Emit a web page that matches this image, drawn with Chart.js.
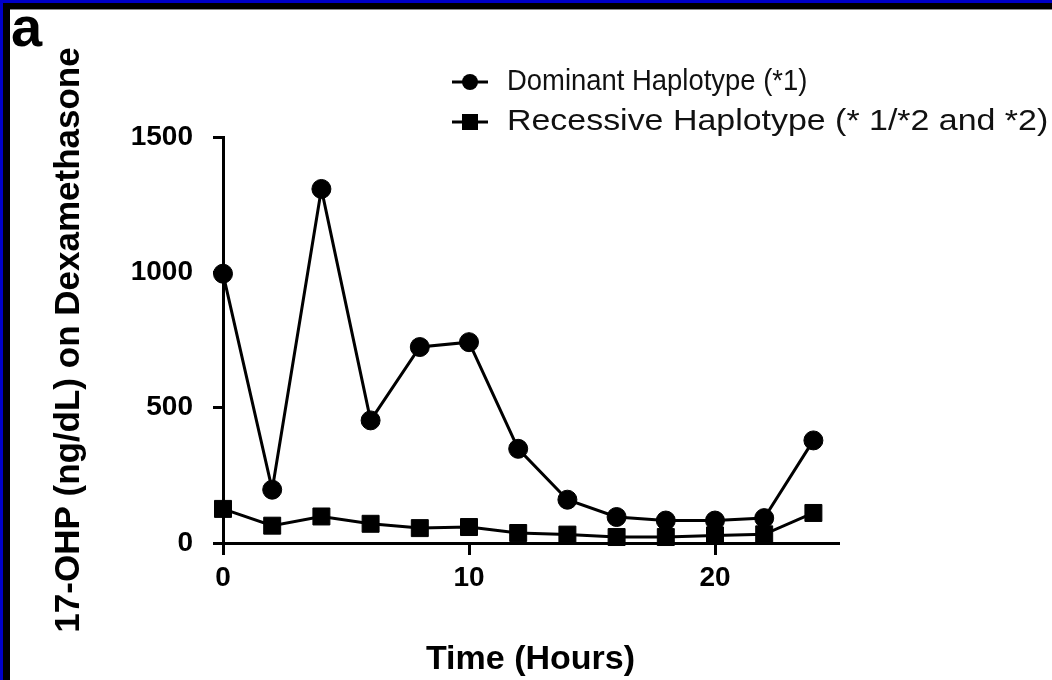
<!DOCTYPE html>
<html>
<head>
<meta charset="utf-8">
<script src="https://cdn.jsdelivr.net/npm/chart.js@4.4.1/dist/chart.umd.min.js"></script>
<style>
  html, body { margin: 0; padding: 0; background: #fff; }
  canvas { display: block; }
</style>
</head>
<body>
<canvas id="c" width="1052" height="680"></canvas>
<script>
// Sampling times (hours) and mean 17-OHP levels per haplotype group
const hours = [0, 2, 4, 6, 8, 10, 12, 14, 16, 18, 20, 22, 24];
const dominant = [995, 197, 1308, 453, 724, 742, 348, 160, 96, 83, 83, 92, 379];
const recessive = [126, 64, 98, 71, 55, 59, 37, 31, 22, 22, 28, 32, 111];
const seriesLabels = ['Dominant Haplotype (*1)', 'Recessive Haplotype (* 1/*2 and *2)'];
const seriesMarkers = ['circle', 'rect'];
const xTicks = [0, 10, 20];
const yTicks = [0, 500, 1000, 1500];

const FONT = "'Liberation Sans', Arial, Helvetica, sans-serif";

function toPoints(values) {
  return hours.map((h, i) => ({ x: h, y: values[i] }));
}

// Outer frame and panel letter
const framePlugin = {
  id: 'frame',
  afterDraw(chart) {
    const ctx = chart.ctx;
    const W = chart.width, H = chart.height;
    ctx.save();
    ctx.fillStyle = '#000';
    ctx.fillRect(0, 0, W, 9);
    ctx.fillRect(0, 0, 10, H);
    ctx.fillStyle = '#0000c8';
    ctx.fillRect(0, 0, W, 3);
    ctx.fillRect(0, 0, 3, H);
    ctx.fillStyle = '#888';
    ctx.fillRect(10, 9, W - 10, 1);
    ctx.fillStyle = '#000';
    ctx.font = 'bold 56px ' + FONT;
    ctx.textBaseline = 'alphabetic';
    ctx.textAlign = 'left';
    ctx.fillText('a', 11, 46);
    ctx.restore();
  }
};

// Legend: line segment with the series marker, then the label
const legendPlugin = {
  id: 'lineLegend',
  afterDraw(chart) {
    const ctx = chart.ctx;
    const x0 = 452, x1 = 488, textX = 507;
    const rows = [82, 122];
    const stretch = [0.93, 1.15];
    ctx.save();
    chart.data.datasets.forEach((ds, i) => {
      const y = rows[i];
      ctx.strokeStyle = ds.borderColor;
      ctx.lineWidth = 3;
      ctx.beginPath();
      ctx.moveTo(x0, y);
      ctx.lineTo(x1, y);
      ctx.stroke();
      ctx.fillStyle = ds.pointBackgroundColor;
      const cx = (x0 + x1) / 2;
      if (ds.pointStyle === 'circle') {
        ctx.beginPath();
        ctx.arc(cx, y, 8, 0, Math.PI * 2);
        ctx.fill();
      } else {
        ctx.fillRect(cx - 8, y - 8, 16, 16);
      }
      ctx.save();
      ctx.translate(textX, y);
      ctx.scale(stretch[i], 1);
      ctx.fillStyle = '#111';
      ctx.font = '29.5px ' + FONT;
      ctx.textAlign = 'left';
      ctx.textBaseline = 'middle';
      ctx.fillText(ds.label, 0, 0);
      ctx.restore();
    });
    ctx.restore();
  }
};

const datasets = [dominant, recessive].map((vals, i) => ({
  label: seriesLabels[i],
  data: toPoints(vals),
  borderColor: '#000',
  backgroundColor: '#000',
  pointBackgroundColor: '#000',
  pointBorderColor: '#000',
  borderWidth: 3,
  pointStyle: seriesMarkers[i],
  pointRadius: i === 0 ? 9.5 : 12,
  pointBorderWidth: 1,
  pointHoverRadius: i === 0 ? 9.5 : 12,
  tension: 0,
  fill: false,
  clip: false
}));

const plainNumber = v => String(v);

new Chart(document.getElementById('c'), {
  type: 'line',
  data: { datasets },
  options: {
    responsive: false,
    animation: false,
    events: [],
    layout: { padding: { top: 137, right: 214, left: 0, bottom: 0 } },
    plugins: { legend: { display: false }, tooltip: { enabled: false } },
    scales: {
      x: {
        type: 'linear',
        min: 0,
        max: 25,
        afterBuildTicks(scale) { scale.ticks = xTicks.map(v => ({ value: v })); },
        afterFit(scale) { scale.height = 137; },
        grid: { display: true, drawOnChartArea: false, drawTicks: true, tickLength: 12, color: '#000', lineWidth: 3 },
        border: { display: true, color: '#000', width: 3 },
        ticks: { color: '#000', padding: 6, maxRotation: 0, callback: plainNumber, font: { family: FONT, size: 28, weight: 'bold' } },
        title: { display: true, text: 'Time (Hours)', color: '#000', padding: { top: 0, bottom: 0 }, font: { family: FONT, size: 34, weight: 'bold', lineHeight: 1.2 } }
      },
      y: {
        type: 'linear',
        min: 0,
        max: 1500,
        afterBuildTicks(scale) { scale.ticks = yTicks.map(v => ({ value: v })); },
        afterFit(scale) { scale.width = 223; },
        grid: { display: true, drawOnChartArea: false, drawTicks: true, tickLength: 10, color: '#000', lineWidth: 3 },
        border: { display: true, color: '#000', width: 3 },
        ticks: { color: '#000', padding: 20, callback: plainNumber, font: { family: FONT, size: 28, weight: 'bold' } },
        title: { display: true, text: '17-OHP (ng/dL) on Dexamethasone', color: '#000', padding: { top: 48, bottom: 0 }, font: { family: FONT, size: 35, weight: 'bold', lineHeight: 1.2 } }
      }
    }
  },
  plugins: [framePlugin, legendPlugin]
});
</script>
</body>
</html>
